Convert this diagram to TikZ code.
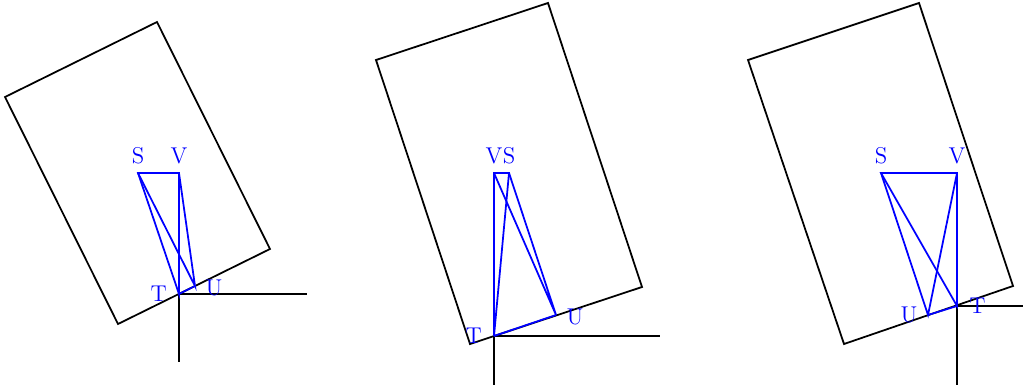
\documentclass[tikz,border=0pt]{standalone}
\begin{document}
\begin{tikzpicture}[x=0.02cm, y=-0.02cm,
  frame/.style={draw, line width=1pt, line join=miter},
  axis/.style={draw, line width=1pt},
  tri/.style={draw=blue, line width=1pt},
  lbl/.style={text=blue, font=\fontsize{13}{15}\selectfont, inner sep=3.3pt}]
\useasboundingbox (0,0) rectangle (1023,385);
% first panel
\draw[frame] (5,97) -- (157,22) -- (270,249) -- (118,324) -- cycle;
\coordinate (t1) at (179,294);
\coordinate (u1) at (195,286);
\coordinate (s1) at (138,173);
\coordinate (v1) at (179,173);
\coordinate (x1) at (307,294);
\coordinate (y1) at (179,362);
\draw[axis] (t1) -- (x1);
\draw[axis] (t1) -- (y1);
\draw[tri] (s1) -- (v1) -- (t1) -- cycle;
\draw[tri] (s1) -- (u1) -- (v1);
\draw[tri] (t1) -- (u1);
\node[lbl, above=1.5pt] (ls1) at (s1) {S};
\node[lbl, above=1.5pt] (lv1) at (v1) {V};
\node[lbl, left=3.5pt] (lt1) at (t1) {T};
\node[lbl, right=2.5pt, yshift=-1pt] (lu1) at (u1) {U};
% second panel
\draw[frame] (376,60) -- (548,3) -- (642,287) -- (470,344) -- cycle;
\coordinate (t2) at (494,336);
\coordinate (u2) at (556,315);
\coordinate (s2) at (509,173);
\coordinate (v2) at (494,173);
\coordinate (x2) at (660,336);
\coordinate (y2) at (494,385);
\draw[axis] (t2) -- (x2);
\draw[axis] (t2) -- (y2);
\draw[tri] (s2) -- (v2) -- (t2) -- cycle;
\draw[tri] (s2) -- (u2) -- (v2);
\draw[tri] (t2) -- (u2);
\node[lbl, above=1.5pt] (ls2) at (s2) {S};
\node[lbl, above=1.5pt] (lv2) at (v2) {V};
\node[lbl, left=3.5pt] (lt2) at (t2) {T};
\node[lbl, right=2.5pt, yshift=-1pt] (lu2) at (u2) {U};
% third panel
\draw[frame] (748,60) -- (919,3) -- (1013,286) -- (844,344) -- cycle;
\coordinate (t3) at (957,306);
\coordinate (u3) at (928,315);
\coordinate (s3) at (881,173);
\coordinate (v3) at (957,173);
\coordinate (x3) at (1023,306);
\coordinate (y3) at (957,385);
\draw[axis] (t3) -- (x3);
\draw[axis] (t3) -- (y3);
\draw[tri] (s3) -- (v3) -- (t3) -- cycle;
\draw[tri] (s3) -- (u3) -- (v3);
\draw[tri] (t3) -- (u3);
\node[lbl, above=1.5pt] (ls3) at (s3) {S};
\node[lbl, above=1.5pt] (lv3) at (v3) {V};
\node[lbl, left=2.5pt] (lu3) at (u3) {U};
\node[lbl, right=3.5pt] (lt3) at (t3) {T};
\end{tikzpicture}
\end{document}
